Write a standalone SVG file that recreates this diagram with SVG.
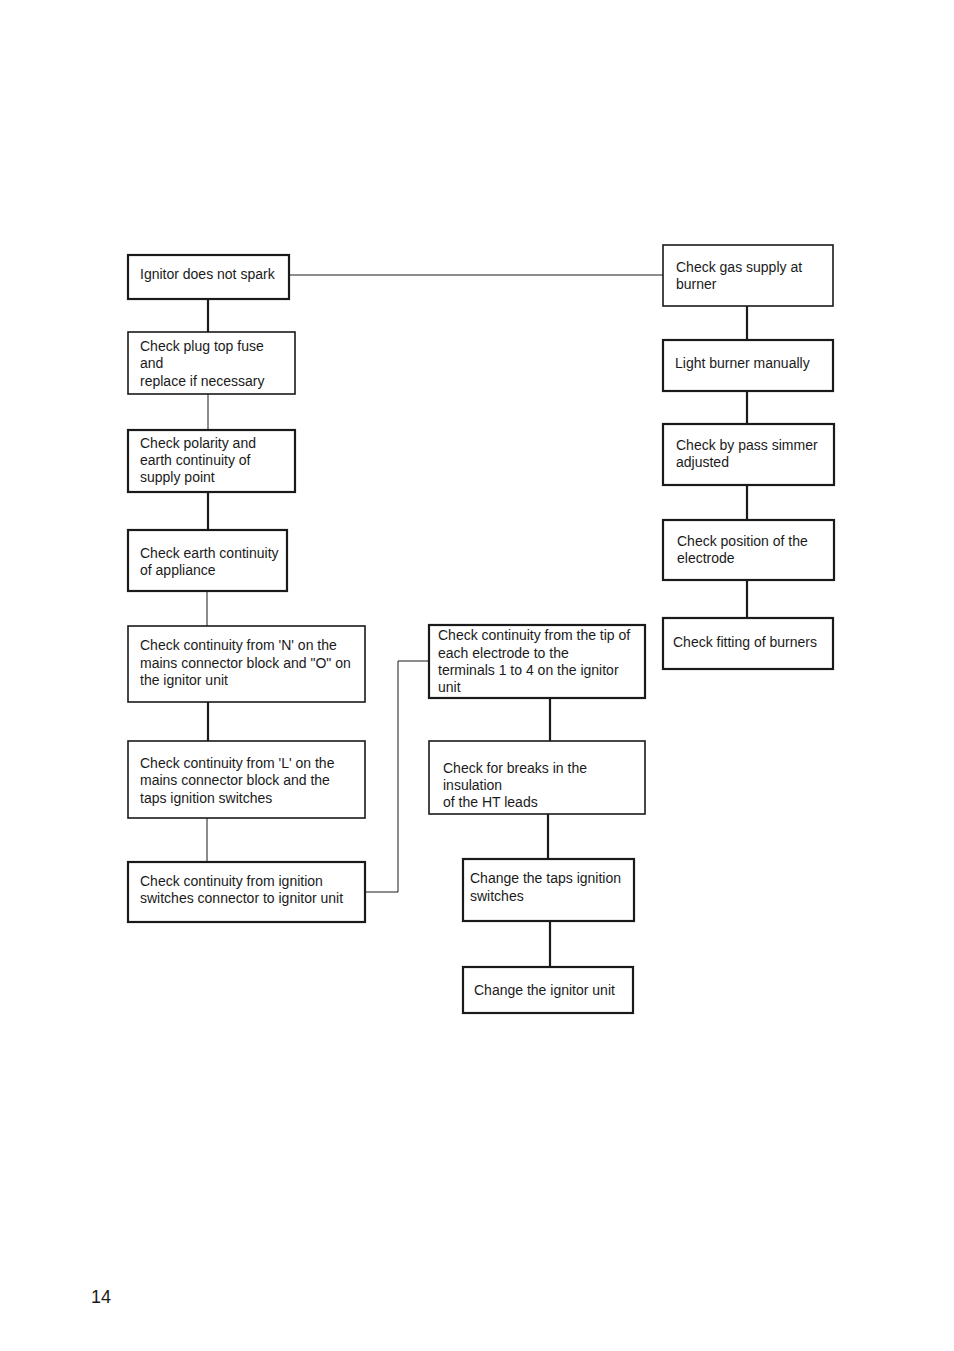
<svg xmlns="http://www.w3.org/2000/svg" width="954" height="1351" viewBox="0 0 954 1351">
<style>
rect{fill:#fff;stroke:#1a1a1a;stroke-width:1.6}
rect.b{stroke-width:2.2}
text{font-family:"Liberation Sans",Arial,sans-serif;font-size:14px;fill:#1a1a1a}
.c line,.c polyline{stroke:#1a1a1a;fill:none}
.t{stroke-width:1}
.k{stroke-width:2.2}
</style>
<rect width="954" height="1351" fill="#fff" style="stroke:none"/>
<g class="c">
<line class="t" x1="289" y1="275" x2="663" y2="275"/>
<line class="k" x1="208" y1="299" x2="208" y2="332"/>
<line class="t" x1="208" y1="394" x2="208" y2="430"/>
<line class="k" x1="208" y1="492" x2="208" y2="530"/>
<line class="t" x1="207" y1="591" x2="207" y2="626"/>
<line class="k" x1="208" y1="702" x2="208" y2="741"/>
<line class="t" x1="207" y1="818" x2="207" y2="862"/>
<polyline class="t" points="365,892 398,892 398,661 429,661"/>
<line class="k" x1="550" y1="698" x2="550" y2="741"/>
<line class="k" x1="548" y1="814" x2="548" y2="859"/>
<line class="k" x1="550" y1="921" x2="550" y2="967"/>
<line class="k" x1="747" y1="306" x2="747" y2="340"/>
<line class="k" x1="747" y1="391" x2="747" y2="424"/>
<line class="k" x1="747" y1="485" x2="747" y2="520"/>
<line class="k" x1="747" y1="580" x2="747" y2="618"/>
</g>
<g id="n1"><rect class="b" x="128" y="255" width="161" height="44"/><text x="140" y="279">Ignitor does not spark</text></g>
<g id="n2"><rect x="128" y="332" width="167" height="62"/><text x="140" y="351">Check plug top fuse</text><text x="140" y="368">and</text><text x="140" y="386">replace if necessary</text></g>
<g id="n3"><rect class="b" x="128" y="430" width="167" height="62"/><text x="140" y="448">Check polarity and</text><text x="140" y="465">earth continuity of</text><text x="140" y="482">supply point</text></g>
<g id="n4"><rect class="b" x="128" y="530" width="159" height="61"/><text x="140" y="558">Check earth continuity</text><text x="140" y="575">of appliance</text></g>
<g id="n5"><rect x="128" y="626" width="237" height="76"/><text x="140" y="650">Check continuity from 'N' on the</text><text x="140" y="668">mains connector block and "O" on</text><text x="140" y="685">the ignitor unit</text></g>
<g id="n6"><rect x="128" y="741" width="237" height="77"/><text x="140" y="768">Check continuity from 'L' on the</text><text x="140" y="785">mains connector block and the</text><text x="140" y="803">taps ignition switches</text></g>
<g id="n7"><rect class="b" x="128" y="862" width="237" height="60"/><text x="140" y="886">Check continuity from ignition</text><text x="140" y="903">switches connector to ignitor unit</text></g>
<g id="n8"><rect class="b" x="429" y="625" width="216" height="73"/><text x="438" y="640">Check continuity from the tip of</text><text x="438" y="658">each electrode to the</text><text x="438" y="675">terminals 1 to 4 on the ignitor</text><text x="438" y="692">unit</text></g>
<g id="n9"><rect x="429" y="741" width="216" height="73"/><text x="443" y="773">Check for breaks in the</text><text x="443" y="790">insulation</text><text x="443" y="807">of the HT leads</text></g>
<g id="n10"><rect class="b" x="463" y="859" width="171" height="62"/><text x="470" y="883">Change the taps ignition</text><text x="470" y="901">switches</text></g>
<g id="n11"><rect class="b" x="463" y="967" width="170" height="46"/><text x="474" y="995">Change the ignitor unit</text></g>
<g id="n12"><rect x="663" y="245" width="170" height="61"/><text x="676" y="272">Check gas supply at</text><text x="676" y="289">burner</text></g>
<g id="n13"><rect class="b" x="663" y="340" width="170" height="51"/><text x="675" y="368">Light burner manually</text></g>
<g id="n14"><rect class="b" x="663" y="424" width="171" height="61"/><text x="676" y="450">Check by pass simmer</text><text x="676" y="467">adjusted</text></g>
<g id="n15"><rect class="b" x="663" y="520" width="171" height="60"/><text x="677" y="546">Check position of the</text><text x="677" y="563">electrode</text></g>
<g id="n16"><rect class="b" x="663" y="618" width="170" height="51"/><text x="673" y="647">Check fitting of burners</text></g>
<text x="91" y="1303" style="font-size:18px">14</text>
</svg>
